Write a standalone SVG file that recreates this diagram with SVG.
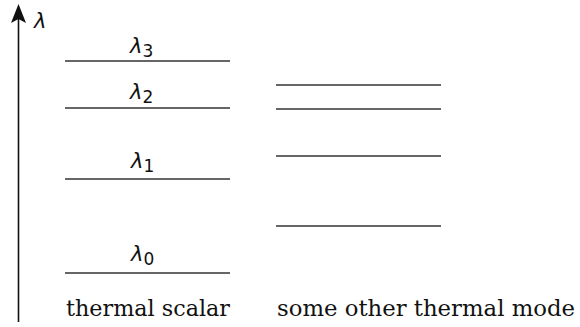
<svg xmlns="http://www.w3.org/2000/svg" width="580" height="327" viewBox="0 0 580 327">
<style>
.lvl{stroke:#333;stroke-width:1.6;fill:none}
.ax{stroke:#111;stroke-width:1.6;fill:none}
.lam{font-family:"DejaVu Sans","Liberation Sans",sans-serif;font-style:italic;font-size:21px;fill:#111}
.sub{font-style:normal;font-size:17px}
.cap{font-family:"DejaVu Serif","Liberation Serif",serif;font-size:22px;fill:#111}
</style>
<rect width="580" height="327" fill="#fff"/>
<g id="axis">
<line class="ax" x1="18.5" y1="322" x2="18.5" y2="18"/>
<path d="M18.5 4 L26 23 L18.5 19 L11 23 Z" fill="#111"/>
<text class="lam" x="34" y="28">λ</text>
</g>
<g id="thermal-scalar">
<line class="lvl" x1="65" y1="61" x2="230" y2="61"/>
<line class="lvl" x1="65" y1="108" x2="230" y2="108"/>
<line class="lvl" x1="65" y1="179" x2="230" y2="179"/>
<line class="lvl" x1="65" y1="273" x2="230" y2="273"/>
<text class="lam" x="130" y="53">λ<tspan class="sub" dy="4">3</tspan></text>
<text class="lam" x="130" y="99">λ<tspan class="sub" dy="4">2</tspan></text>
<text class="lam" x="131" y="168">λ<tspan class="sub" dy="4">1</tspan></text>
<text class="lam" x="131" y="261">λ<tspan class="sub" dy="4">0</tspan></text>
<text class="cap" x="66" y="316" textLength="164" lengthAdjust="spacingAndGlyphs">thermal scalar</text>
</g>
<g id="other-mode">
<line class="lvl" x1="276" y1="85" x2="441" y2="85"/>
<line class="lvl" x1="276" y1="109" x2="441" y2="109"/>
<line class="lvl" x1="276" y1="156" x2="441" y2="156"/>
<line class="lvl" x1="276" y1="226" x2="441" y2="226"/>
<text class="cap" x="277" y="316" textLength="298" lengthAdjust="spacingAndGlyphs">some other thermal mode</text>
</g>
</svg>
